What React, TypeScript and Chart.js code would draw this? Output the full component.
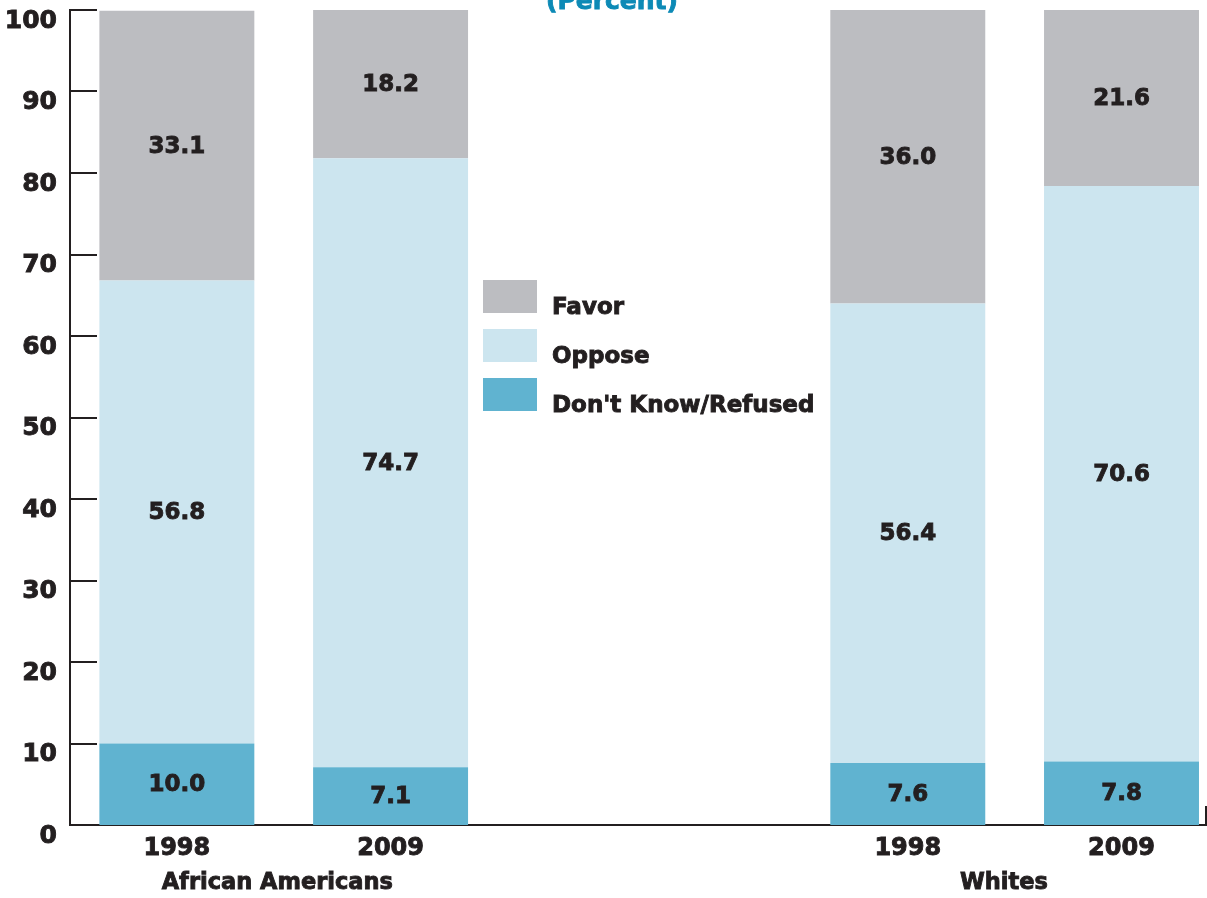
import React, { useEffect, useRef } from "react";
import { Chart, registerables } from "chart.js";

Chart.register(...registerables);

// ---- data ----
const years = ["1998", "2009", "1998", "2009"];
const barPositions = [1, 2, 4.42, 5.42];
const groups = ["African Americans", "Whites"];
const groupCenters = [1.47, 4.87];
const dontKnow = [10.0, 7.1, 7.6, 7.8];
const oppose = [56.8, 74.7, 56.4, 70.6];
const favor = [33.1, 18.2, 36.0, 21.6];
const yTickValues = [0, 10, 20, 30, 40, 50, 60, 70, 80, 90, 100];
const seriesLabels = ["Don't Know/Refused", "Oppose", "Favor"];
const legendOrder = ["Favor", "Oppose", "Don't Know/Refused"];

const FONT = "'DejaVu Sans', sans-serif";
const INK = "#231F20";
const COLORS: Record<string, string> = {
  Favor: "#BCBDC1",
  Oppose: "#CCE5EF",
  "Don't Know/Refused": "#60B3D0",
};
const STROKE = 0.9;

const toPoints = (vals: number[]) => vals.map((v, i) => ({ x: barPositions[i], y: v }));

function boldText(ctx: CanvasRenderingContext2D, text: string, x: number, y: number) {
  ctx.fillText(text, x, y);
  ctx.lineWidth = STROKE;
  ctx.strokeStyle = ctx.fillStyle as string;
  ctx.strokeText(text, x, y);
}

const decorPlugin = {
  id: "decor",
  afterDatasetsDraw(chart: any) {
    const ctx = chart.ctx;
    const area = chart.chartArea;
    const yScale = chart.scales.y;
    const xScale = chart.scales.x;
    ctx.save();
    // inward y tick marks
    ctx.strokeStyle = INK;
    ctx.lineWidth = 2;
    yTickValues.forEach((v) => {
      if (v === 0) return;
      const y = Math.round(yScale.getPixelForValue(v));
      ctx.beginPath();
      ctx.moveTo(area.left, y);
      ctx.lineTo(area.left + 27, y);
      ctx.stroke();
    });
    // small end marker on x axis
    ctx.beginPath();
    ctx.moveTo(area.right - 1, area.bottom);
    ctx.lineTo(area.right - 1, area.bottom - 19);
    ctx.stroke();

    // value labels
    ctx.fillStyle = INK;
    ctx.font = `bold 23px ${FONT}`;
    ctx.textAlign = "center";
    ctx.textBaseline = "middle";
    chart.data.datasets.forEach((ds: any, di: number) => {
      const meta = chart.getDatasetMeta(di);
      meta.data.forEach((el: any, i: number) => {
        const v = ds.data[i].y;
        const cy = (el.y + el.base) / 2;
        boldText(ctx, v.toFixed(1), el.x, cy + 1);
      });
    });

    // group labels
    ctx.font = `bold 22.5px ${FONT}`;
    ctx.textBaseline = "alphabetic";
    groups.forEach((g, i) => {
      boldText(ctx, g, xScale.getPixelForValue(groupCenters[i]), 889);
    });

    // legend
    legendOrder.forEach((name, i) => {
      const top = 280 + i * 49;
      ctx.fillStyle = COLORS[name];
      ctx.fillRect(483, top, 54, 33);
      ctx.fillStyle = INK;
      ctx.font = `bold 23px ${FONT}`;
      ctx.textAlign = "left";
      ctx.textBaseline = "alphabetic";
      boldText(ctx, name, 552, top + 34);
    });

    // title (cut at top)
    ctx.fillStyle = "#0D8AB6";
    ctx.font = `bold 25px ${FONT}`;
    ctx.textAlign = "center";
    boldText(ctx, "(Percent)", 612, 9);
    ctx.restore();
  },
};

export default function App() {
  const ref = useRef<HTMLCanvasElement>(null);
  useEffect(() => {
    document.body.style.margin = "0";
    const canvas = ref.current!;
    const chart = new Chart(canvas, {
      type: "bar",
      data: {
        datasets: seriesLabels.map((label, k) => ({
          label,
          data: toPoints([dontKnow, oppose, favor][k]),
          backgroundColor: COLORS[label],
          borderWidth: 0,
          barPercentage: 0.725,
          categoryPercentage: 1,
        })),
      },
      options: {
        responsive: false,
        animation: false,
        devicePixelRatio: 1,
        layout: { padding: { top: 10, right: 0, left: 0, bottom: 0 } },
        plugins: {
          legend: { display: false },
          tooltip: { enabled: false },
          title: { display: false },
        },
        scales: {
          x: {
            type: "linear",
            stacked: true,
            offset: false,
            min: 0.5,
            max: 5.82,
            afterBuildTicks: (scale: any) => {
              scale.ticks = barPositions.map((v) => ({ value: v }));
            },
            afterFit: (scale: any) => {
              scale.height = 73;
              scale.paddingLeft = 0;
              scale.paddingRight = 0;
            },
            grid: { display: false, drawTicks: false },
            border: { display: true, color: INK, width: 2 },
            ticks: {
              autoSkip: false,
              maxRotation: 0,
              padding: 9,
              color: INK,
              textStrokeColor: INK,
              textStrokeWidth: STROKE,
              font: { family: FONT, weight: "bold", size: 24 },
              callback: (value: any) => {
                const idx = barPositions.findIndex((p) => Math.abs(p - Number(value)) < 1e-6);
                return idx >= 0 ? years[idx] : "";
              },
            },
          },
          y: {
            stacked: true,
            min: 0,
            max: 100,
            afterBuildTicks: (scale: any) => {
              scale.ticks = yTickValues.map((v) => ({ value: v }));
            },
            afterFit: (scale: any) => {
              scale.width = 70;
              scale.paddingTop = 0;
              scale.paddingBottom = 0;
            },
            grid: { display: false, drawTicks: false },
            border: { display: true, color: INK, width: 2 },
            ticks: {
              padding: 13,
              labelOffset: 11,
              color: INK,
              textStrokeColor: INK,
              textStrokeWidth: STROKE,
              font: { family: FONT, weight: "bold", size: 25 },
            },
          },
        },
      },
      plugins: [decorPlugin],
    } as any);
    return () => chart.destroy();
  }, []);
  return <canvas ref={ref} width={1207} height={898} style={{ display: "block" }} />;
}
